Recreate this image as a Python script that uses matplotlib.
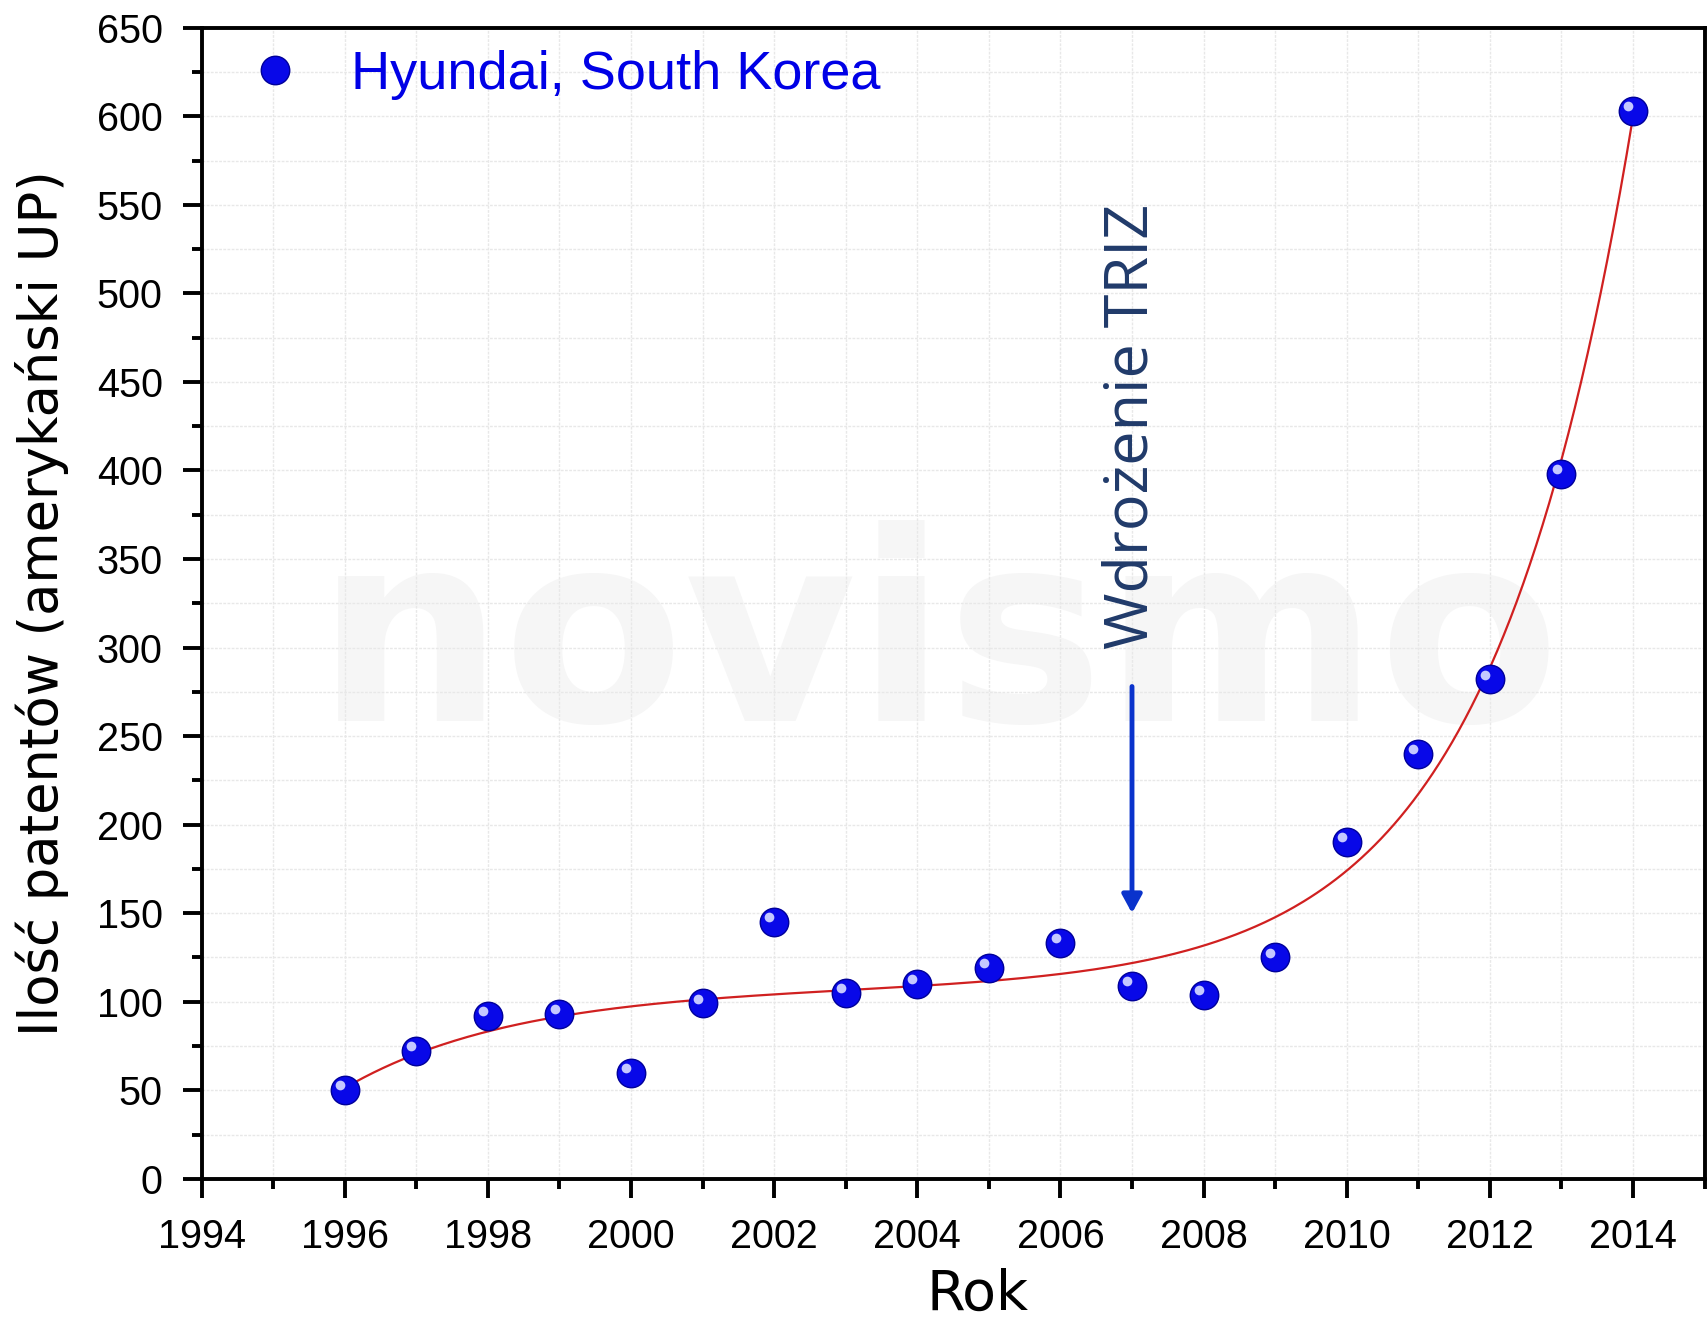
import numpy as np
import matplotlib
matplotlib.use('Agg')
import matplotlib.pyplot as plt
from matplotlib.ticker import MultipleLocator
from matplotlib.transforms import offset_copy
from matplotlib.lines import Line2D

# dane
years = np.arange(1996, 2015)
patents = [50, 72, 92, 93, 60, 99, 145, 105, 110, 119, 133, 109, 104, 125, 190, 240, 282, 398, 603]
series_label = 'Hyundai, South Korea'
triz_year = 2007
triz_text = 'Wdrożenie TRIZ'
xlabel = 'Rok'
ylabel = 'Ilość patentów (amerykański UP)'

# dopasowanie: stała + wygasająca eksp. + rosnąca eksp. (siatka po stałych czasowych)
x = years.astype(float)
y = np.asarray(patents, dtype=float)
best = None
for t1 in np.linspace(0.5, 6, 56):
    for t2 in np.linspace(0.5, 4, 71):
        A = np.column_stack([np.ones_like(x), np.exp(-(x - x[0]) / t1), np.exp((x - x[-1]) / t2)])
        coef, *_ = np.linalg.lstsq(A, y, rcond=None)
        r = ((A @ coef - y) ** 2).sum()
        if best is None or r < best[0]:
            best = (r, t1, t2, coef)
_, t1, t2, coef = best
xs = np.linspace(x[0], x[-1], 400)
ys = coef[0] + coef[1] * np.exp(-(xs - x[0]) / t1) + coef[2] * np.exp((xs - x[-1]) / t2)

fig = plt.figure(figsize=(17.08, 13.23), dpi=100)
ax = fig.add_axes([0.118, 0.109, 0.880, 0.870])

ax.set_xlim(1994, 2015)
ax.set_ylim(0, 650)
ax.xaxis.set_major_locator(MultipleLocator(2))
ax.xaxis.set_minor_locator(MultipleLocator(1))
ax.yaxis.set_major_locator(MultipleLocator(50))
ax.yaxis.set_minor_locator(MultipleLocator(25))
ax.grid(which='both', color='#e8e8e8', linewidth=1.0, linestyle=(0, (2, 1)), zorder=0)
ax.set_axisbelow(True)

for s in ax.spines.values():
    s.set_linewidth(2.8)
ax.tick_params(which='major', direction='out', length=14, width=2.8, labelsize=28.5)
ax.tick_params(which='minor', direction='out', length=7, width=2.8)
ax.tick_params(axis='x', which='major', pad=14)
ax.tick_params(axis='y', which='major', pad=14)
ax.tick_params(top=False, right=False)
for lab in ax.get_xticklabels() + ax.get_yticklabels():
    lab.set_family('Liberation Sans')

# znak wodny
ax.text(2004.3, 300, 'novismo', fontsize=190, color='#f6f6f6', ha='center', va='center',
        family='DejaVu Sans', fontweight='semibold', zorder=0.5)

ax.plot(xs, ys, color='#d02020', linewidth=1.6, zorder=2)

ax.plot(years, patents, 'o', ms=20.5, mfc='#0808e8', mec='#00009a', mew=1.0, zorder=3)
hl = offset_copy(ax.transData, fig=fig, x=-3.5, y=3.5, units='points')
ax.plot(years, patents, 'o', ms=7, mfc='#c4c8ff', mec='none', transform=hl, zorder=4)

ax.annotate('', xy=(triz_year, 150), xytext=(triz_year, 278),
            arrowprops=dict(arrowstyle='-|>,head_length=1.1,head_width=0.6', color='#0a33cc', lw=3.5,
                            shrinkA=0, shrinkB=0), zorder=5)
ax.text(triz_year, 425, triz_text, rotation=90, ha='center', va='center', fontsize=44,
        color='#203a6a', family='Open Sans', zorder=5)

handle = Line2D([], [], marker='o', ls='none', ms=20.5, mfc='#0808e8', mec='#00009a')
ax.legend([handle], [series_label], loc='upper left', bbox_to_anchor=(0.0, 1.021), frameon=False,
          handlelength=1.0, handletextpad=0.9, borderaxespad=0.45, numpoints=1,
          labelcolor='#0000e6', prop={'family': 'Liberation Sans', 'size': 39})

ax.set_xlabel(xlabel, fontsize=40, family='DejaVu Sans', labelpad=9)
ax.xaxis.label.set_x(0.516)
ax.set_ylabel(ylabel, fontsize=38, family='DejaVu Sans', labelpad=20)

fig.savefig('out.png', dpi=100)
